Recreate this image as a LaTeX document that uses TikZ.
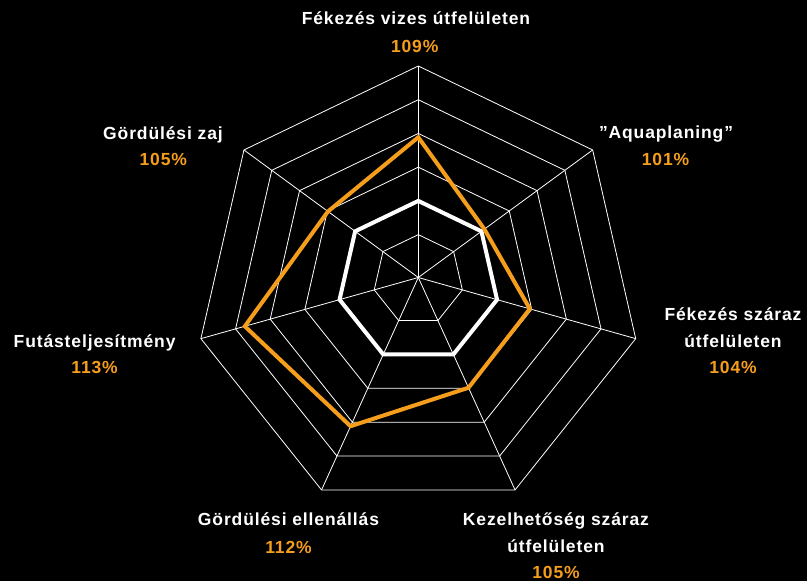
\documentclass[tikz,border=0pt]{standalone}
\usepackage{fontspec}
\setmainfont{Liberation Sans}
\newfontfamily\lblfont[LetterSpace=5]{Liberation Sans}
\usepackage{tikz}
\usetikzlibrary{calc}
\definecolor{TyreOrange}{RGB}{245,158,27}

\begin{document}
\begin{tikzpicture}[x=1pt,y=-1pt]
		\tikzstyle{grid}=[draw=white, line width=0.8pt];
		\tikzstyle{title}=[text=white, font=\lblfont\bfseries\fontsize{17.5}{26.5}\selectfont, align=center, anchor=base, inner sep=0pt];
		\tikzstyle{value}=[text=TyreOrange, font=\lblfont\bfseries\fontsize{17.5}{26.5}\selectfont, anchor=base, inner sep=0pt];
		\fill[black] (0,0) rectangle (807,581);
		\useasboundingbox (0,0) rectangle (807,581);
		% centre and outer ends of the seven axes
		\coordinate (c) at (418.3,277.5);
		\coordinate (a0) at ($(c)+(0,-211.5)$);
		\coordinate (a1) at ($(c)+(174.35,-127.53)$);
		\coordinate (a2) at ($(c)+(217.41,61.13)$);
		\coordinate (a3) at ($(c)+(96.76,212.42)$);
		\coordinate (a4) at ($(c)+(-96.76,212.42)$);
		\coordinate (a5) at ($(c)+(-217.41,61.13)$);
		\coordinate (a6) at ($(c)+(-174.35,-127.53)$);
		% web
		\foreach \f in {0.2027,0.3622,0.5216,0.6811,0.8405,1}
			\draw[grid] ($(c)!\f!(a0)$) -- ($(c)!\f!(a1)$) -- ($(c)!\f!(a2)$) -- ($(c)!\f!(a3)$) -- ($(c)!\f!(a4)$) -- ($(c)!\f!(a5)$) -- ($(c)!\f!(a6)$) -- cycle;
		\draw[grid] (c) -- (a0);
		\draw[grid] (c) -- (a1);
		\draw[grid] (c) -- (a2);
		\draw[grid] (c) -- (a3);
		\draw[grid] (c) -- (a4);
		\draw[grid] (c) -- (a5);
		\draw[grid] (c) -- (a6);
		% reference tyre = 100%
		\draw[white, line width=4pt] ($(c)!0.3622!(a0)$) -- ($(c)!0.3622!(a1)$) -- ($(c)!0.3622!(a2)$) -- ($(c)!0.3622!(a3)$) -- ($(c)!0.3622!(a4)$) -- ($(c)!0.3622!(a5)$) -- ($(c)!0.3622!(a6)$) -- cycle;
		% tested tyre
		\draw[TyreOrange, line width=4pt] ($(c)!0.663!(a0)$) -- ($(c)!0.379!(a1)$) -- ($(c)!0.513!(a2)$) -- ($(c)!0.519!(a3)$) -- ($(c)!0.70!(a4)$) -- ($(c)!0.798!(a5)$) -- ($(c)!0.518!(a6)$) -- cycle;
		% labels (base = last line)
		\node[title] (tWet) at (416,24) {Fékezés vizes útfelületen};
		\node[value] (vWet) at (414.7,52.7) {109\%};
		\node[title] (tAqua) at (666,138.3) {”Aquaplaning”};
		\node[value] (vAqua) at (665.5,165) {101\%};
		\node[title] (tDry) at (733,347.3) {Fékezés száraz\\útfelületen};
		\node[value] (vDry) at (733,373.3) {104\%};
		\node[title] (tHandling) at (556,552.3) {Kezelhetőség száraz\\útfelületen};
		\node[value] (vHandling) at (556,578.3) {105\%};
		\node[title] (tRoll) at (288.5,525.7) {Gördülési ellenállás};
		\node[value] (vRoll) at (288.5,553.3) {112\%};
		\node[title] (tMileage) at (94.6,347.7) {Futásteljesítmény};
		\node[value] (vMileage) at (94.6,373.3) {113\%};
		\node[title] (tNoise) at (163,139.3) {Gördülési zaj};
		\node[value] (vNoise) at (163.3,165) {105\%};
	\end{tikzpicture}
\end{document}
